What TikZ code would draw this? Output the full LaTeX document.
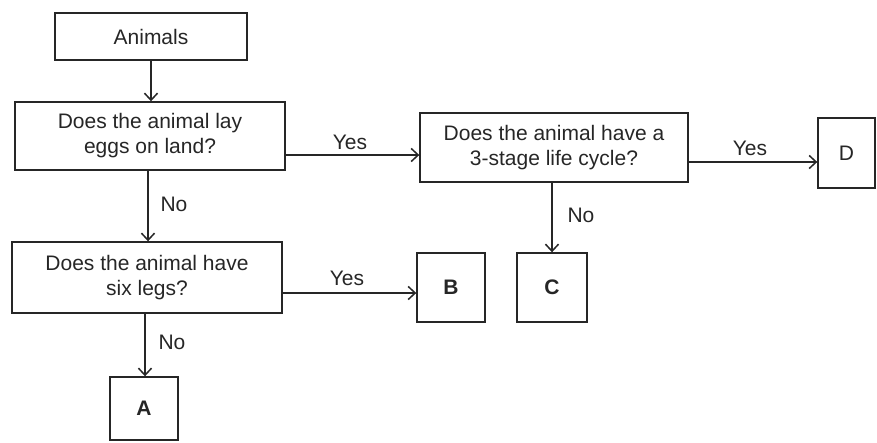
\documentclass[tikz,border=0pt]{standalone}
\usepackage{fontspec}
\setmainfont{Liberation Sans}
\usetikzlibrary{arrows.meta}
\begin{document}
\begin{tikzpicture}[x=1pt,y=-1pt,
  box/.style={draw=black!85, line width=1.4pt, rectangle, inner sep=0pt, align=center,
    font=\fontsize{21}{25}\selectfont, text=black!85},
  lbl/.style={font=\fontsize{21}{24}\selectfont, text=black!85, inner sep=0pt},
  arr/.style={draw=black!85, line width=1.5pt, -{Straight Barb[length=7pt,width=13pt,line width=1.5pt]}}]
\useasboundingbox (0,0) rectangle (877,442);
\node[box, minimum width=192pt, minimum height=47pt] (animals) at (151,36.5) {Animals};
\node[box, minimum width=270pt, minimum height=68pt] (q1) at (150,136) {Does the animal lay\\eggs on land?};
\node[box, minimum width=268pt, minimum height=69pt] (q2) at (554,147.5) {Does the animal have a\\3-stage life cycle?};
\node[box, minimum width=57pt, minimum height=70pt] (d) at (846.5,153) {D};
\node[box, minimum width=270pt, minimum height=71pt] (q3) at (147,277.5) {Does the animal have\\six legs?};
\node[box, minimum width=68pt, minimum height=69pt] (b) at (451,287.5) {\bfseries B};
\node[box, minimum width=70pt, minimum height=69pt] (c) at (552,287.5) {\bfseries C};
\node[box, minimum width=68pt, minimum height=63pt] (a) at (144,408.5) {\bfseries A};
\coordinate (x1) at (151,0);
\coordinate (x2) at (148,0);
\coordinate (x3) at (145,0);
\coordinate (x4) at (552,0);
\coordinate (y1) at (0,155);
\coordinate (y2) at (0,162);
\coordinate (y3) at (0,293);
\draw[arr] (animals.south -| x1) -- (q1.north -| x1);
\draw[arr] (q1.south -| x2) -- (q3.north -| x2);
\draw[arr] (q3.south -| x3) -- (a.north -| x3);
\draw[arr] (q2.south -| x4) -- (c.north -| x4);
\draw[arr] (q1.east |- y1) -- (q2.west |- y1);
\draw[arr] (q2.east |- y2) -- (d.west |- y2);
\draw[arr] (q3.east |- y3) -- (b.west |- y3);
\node[lbl] (no1) at (174,204) {No};
\node[lbl] (no2) at (172,342) {No};
\node[lbl] (no3) at (581,215) {No};
\node[lbl] (yes1) at (350,142) {Yes};
\node[lbl] (yes2) at (750,148) {Yes};
\node[lbl] (yes3) at (347,278) {Yes};
\end{tikzpicture}
\end{document}
